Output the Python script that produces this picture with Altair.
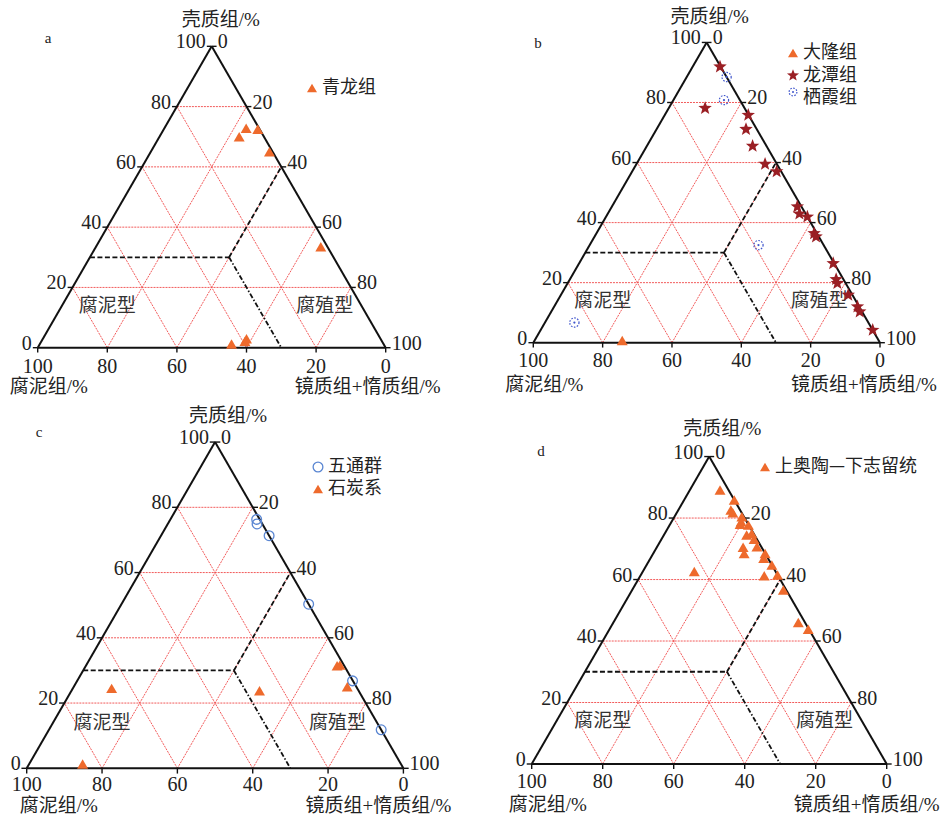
import altair as alt
import pandas as pd

# ---------------- values ----------------
TICK_VALUES = [0, 20, 40, 60, 80, 100]
GRID_VALUES = [20, 40, 60, 80]

AXIS_TOP = "壳质组/%"
AXIS_LEFT = "腐泥组/%"
AXIS_RIGHT = "镜质组+惰质组/%"

# classification boundaries, end points given as (壳质组 E, 镜质组+惰质组 V)
DASHED_E1 = [30, 30]
DASHED_V1 = [0, 40]
DASHED_E2 = [30, 60]
DASHED_V2 = [40, 40]
DASHDOT_E1 = [30]
DASHDOT_V1 = [40]
DASHDOT_E2 = [0]
DASHDOT_V2 = [70]

REGION_NAMES = ["腐泥型", "腐殖型"]
REGION_E = [14, 14]
REGION_V = [13, 75.5]

# a: 青龙组  (E = 壳质组, S = 腐泥组, V = 镜质组+惰质组, %)
A_QL_E = [72.8, 72.5, 70.0, 65.0, 33.5, 1.2, 2.1, 3.0]
A_QL_S = [3.7, 0.5, 7.1, 0.9, 1.9, 43.7, 39.4, 38.5]
A_QL_V = [23.5, 27.0, 22.9, 34.1, 64.6, 55.1, 58.5, 58.5]

# b: 大隆组, 龙潭组, 栖霞组
B_DL_E = [0.7]
B_DL_S = [74.0]
B_DL_V = [25.3]

B_LT_E = [91.9, 78.1, 75.8, 71.1, 65.5, 59.5, 57.0, 45.3, 42.9, 41.9,
          36.4, 35.3, 26.4, 21.1, 19.8, 15.9, 12.0, 10.3, 4.2]
B_LT_S = [0.2, 11.4, 0.1, 3.1, 4.0, 3.4, 1.3, 1.2, 1.8, 0.0,
          0.8, 0.8, 0.3, 2.1, 2.4, 1.2, 0.5, 0.7, 0.0]
B_LT_V = [7.9, 10.5, 24.1, 25.8, 30.5, 37.1, 41.7, 53.5, 55.3, 58.1,
          62.8, 63.9, 73.3, 76.8, 77.8, 82.9, 87.5, 89.0, 95.8]

B_QX_E = [88.5, 80.8, 32.5, 6.7]
B_QX_S = [0.0, 4.6, 18.8, 84.8]
B_QX_V = [11.5, 14.6, 48.7, 8.5]

# c: 五通群, 石炭系
C_WT_E = [76.3, 74.9, 71.3, 50.3, 26.8, 11.8]
C_WT_S = [0.8, 1.4, 0.0, 0.0, 0.1, 0.0]
C_WT_V = [22.9, 23.7, 28.7, 49.7, 73.1, 88.2]

C_ST_E = [31.7, 31.4, 25.0, 23.8, 24.5, 1.3]
C_ST_S = [1.0, 1.9, 2.4, 26.3, 65.2, 84.5]
C_ST_V = [67.3, 66.7, 72.6, 49.9, 10.3, 14.2]

# d: 上奥陶—下志留统
D_OS_E = [89.1, 85.9, 82.6, 81.7, 80.4, 78.8, 78.0, 77.7, 74.5, 75.0, 73.1, 70.7,
          70.5, 68.5, 68.5, 66.9, 64.7, 61.2, 61.5, 56.6, 62.6, 46.0, 43.8]
D_OS_S = [2.4, 0.0, 2.6, 2.5, 0.6, 1.6, 2.3, 0.1, 2.2, 0.5, 0.8, 1.2,
          5.2, 5.9, 0.0, 1.2, 0.0, 3.9, 0.0, 0.8, 22.9, 1.9, 0.2]
D_OS_V = [8.5, 14.1, 14.8, 15.8, 19.0, 19.6, 19.7, 22.2, 23.3, 24.5, 26.1, 28.1,
          24.3, 25.6, 31.5, 31.9, 35.3, 34.9, 38.5, 42.6, 14.5, 52.1, 56.0]

# ---------------- styles ----------------
NUM = "Liberation Serif"
SERIF = "'Liberation Serif', 'Noto Sans CJK SC', serif"
CJK = "'Noto Sans CJK SC', sans-serif"
INK = "#222222"
GRID_RED = "#F04848"
ORANGE = "#EE6A2C"
DARKRED = "#9A1F24"
BLUE = "#5A86D2"
BLUE_DOT = "#3F55CC"
STAR = ("M0,-1 L0.247,-0.34 L0.951,-0.309 L0.399,0.13 L0.588,0.809 L0,0.42 "
        "L-0.588,0.809 L-0.399,0.13 L-0.951,-0.309 L-0.247,-0.34 Z")

PANELS = {
    "a": dict(w=480, h=400, bx=37.7, by=347.7, s=3.48, letter=(48, 38),
              legend=(312, 88), row=22, top=(9, -26), left=(11, 39), right=(-18, 39), bdy=19),
    "b": dict(w=469, h=400, bx=53.3, by=342.7, s=3.467, letter=(58, 43),
              legend=(313, 53), row=22.5, top=(3, -25), left=(11, 42), right=(-16, 42), bdy=18),
    "c": dict(w=480, h=417, bx=26.7, by=368.3, s=3.767, letter=(39, 32),
              legend=(318, 67), row=22, top=(13, -26), left=(32, 38), right=(-25, 38), bdy=17),
    "d": dict(w=469, h=417, bx=51.7, by=364.0, s=3.55, letter=(61, 51),
              legend=(285, 67), row=22, top=(13, -28), left=(16, 41), right=(-20, 41), bdy=18),
}


def tern_x(e, v):
    return f"datum.{v} + datum.{e} / 2"


def tern_y(e):
    return f"datum.{e} * sqrt(3) / 2"


def comp(E, S, V):
    return pd.DataFrame({"E": E, "S": S, "V": V})


def segment_chart(e1, v1, e2, v2, X, Y, **mk):
    df = pd.DataFrame({"e1": e1, "v1": v1, "e2": e2, "v2": v2})
    return (
        alt.Chart(df)
        .transform_calculate(x1=tern_x("e1", "v1"), y1=tern_y("e1"),
                             x2=tern_x("e2", "v2"), y2=tern_y("e2"))
        .mark_rule(**mk)
        .encode(x=X("x1"), y=Y("y1"), x2=alt.X2("x2"), y2=alt.Y2("y2"))
    )


def point_layers(kind, df, X, Y):
    base = alt.Chart(df).transform_calculate(px=tern_x("E", "V"), py=tern_y("E"))
    enc = dict(x=X("px"), y=Y("py"))
    if kind == "tri":
        return [base.mark_point(shape="triangle-up", filled=True, color=ORANGE,
                                size=120, opacity=1).encode(**enc)]
    if kind == "star":
        return [base.mark_point(shape=STAR, filled=True, color=DARKRED,
                                size=200, opacity=1).encode(**enc)]
    if kind == "ring":
        return [base.mark_point(shape="circle", filled=False, color=BLUE,
                                strokeWidth=1.3, size=95, opacity=1).encode(**enc)]
    # dotted ring with a centre dot
    return [
        base.mark_point(shape="circle", filled=False, color=BLUE_DOT, strokeWidth=1.2,
                        strokeDash=[1.6, 1.4], size=85, opacity=1).encode(**enc),
        base.mark_point(shape="circle", filled=True, color=BLUE_DOT, size=5,
                        opacity=1).encode(**enc),
    ]


def legend_symbol(kind, lx, ly):
    one = alt.Chart(pd.DataFrame({"k": [kind]}))
    enc = dict(x=alt.value(lx), y=alt.value(ly))
    if kind == "tri":
        return [one.mark_point(shape="triangle-up", filled=True, color=ORANGE,
                               size=100, opacity=1).encode(**enc)]
    if kind == "star":
        return [one.mark_point(shape=STAR, filled=True, color=DARKRED,
                               size=160, opacity=1).encode(**enc)]
    if kind == "ring":
        return [one.mark_point(shape="circle", filled=False, color=BLUE,
                               strokeWidth=1.3, size=95, opacity=1).encode(**enc)]
    return [
        one.mark_point(shape="circle", filled=False, color=BLUE_DOT, strokeWidth=1.2,
                       strokeDash=[1.6, 1.4], size=60, opacity=1).encode(x=alt.value(lx), y=alt.value(ly - 6)),
        one.mark_point(shape="circle", filled=True, color=BLUE_DOT, size=4,
                       opacity=1).encode(x=alt.value(lx), y=alt.value(ly - 6)),
    ]


def make_panel(key, series):
    p = PANELS[key]
    xs = alt.Scale(domain=[-p["bx"] / p["s"], (p["w"] - p["bx"]) / p["s"]], nice=False, zero=False)
    ys = alt.Scale(domain=[-(p["h"] - p["by"]) / p["s"], p["by"] / p["s"]], nice=False, zero=False)

    def X(f):
        return alt.X(f, type="quantitative", scale=xs, axis=None)

    def Y(f):
        return alt.Y(f, type="quantitative", scale=ys, axis=None)

    layers = []

    # red triangular grid: constant 壳质组, constant 腐泥组, constant 镜质组+惰质组
    g_e1, g_v1, g_e2, g_v2 = [], [], [], []
    for k in GRID_VALUES:
        g_e1 += [k, 0, 0]
        g_v1 += [0, 100 - k, k]
        g_e2 += [k, 100 - k, 100 - k]
        g_v2 += [100 - k, 0, k]
    layers.append(segment_chart(g_e1, g_v1, g_e2, g_v2, X, Y, color=GRID_RED,
                                strokeWidth=0.9, strokeDash=[2, 1]))

    # classification boundaries
    layers.append(segment_chart(DASHED_E1, DASHED_V1, DASHED_E2, DASHED_V2, X, Y,
                                color="#111111", strokeWidth=1.8, strokeDash=[5, 2.5]))
    layers.append(segment_chart(DASHDOT_E1, DASHDOT_V1, DASHDOT_E2, DASHDOT_V2, X, Y,
                                color="#111111", strokeWidth=1.8, strokeDash=[5, 2, 1.5, 2]))

    # outer triangle
    layers.append(segment_chart([0, 0, 100], [0, 100, 0], [0, 100, 0], [100, 0, 0], X, Y,
                                color="#111111", strokeWidth=2))

    # tick stubs and tick labels on the three sides
    ticks = pd.DataFrame({"t": TICK_VALUES})
    left = alt.Chart(ticks).transform_calculate(E="datum.t", V="0", label="datum.t") \
        .transform_calculate(x=tern_x("E", "V"), y=tern_y("E"), xe="datum.x - 1.4")
    right = alt.Chart(ticks).transform_calculate(E="100 - datum.t", V="datum.t", label="datum.t") \
        .transform_calculate(x=tern_x("E", "V"), y=tern_y("E"), xe="datum.x + 1.4")
    bottom = alt.Chart(ticks).transform_calculate(E="0", V="100 - datum.t", label="datum.t") \
        .transform_calculate(x=tern_x("E", "V"), y=tern_y("E"), ye="datum.y - 1.4")
    layers += [
        left.mark_rule(color="#111111", strokeWidth=1.4).encode(x=X("x"), y=Y("y"), x2=alt.X2("xe")),
        right.mark_rule(color="#111111", strokeWidth=1.4).encode(x=X("x"), y=Y("y"), x2=alt.X2("xe")),
        bottom.mark_rule(color="#111111", strokeWidth=1.4).encode(x=X("x"), y=Y("y"), y2=alt.Y2("ye")),
        left.mark_text(font=NUM, fontSize=20, color=INK, align="right", baseline="middle", dx=-6, dy=-4)
        .encode(x=X("x"), y=Y("y"), text="label:N"),
        right.mark_text(font=NUM, fontSize=20, color=INK, align="left", baseline="middle", dx=6, dy=-4)
        .encode(x=X("x"), y=Y("y"), text="label:N"),
        bottom.mark_text(font=NUM, fontSize=20, color=INK, align="center", baseline="middle", dy=p["bdy"])
        .encode(x=X("x"), y=Y("y"), text="label:N"),
    ]

    # axis titles at the three vertices
    for title, e, v, off in [(AXIS_TOP, 100, 0, p["top"]), (AXIS_LEFT, 0, 0, p["left"]),
                             (AXIS_RIGHT, 0, 100, p["right"])]:
        df = pd.DataFrame({"t": [title], "E": [e], "V": [v]})
        layers.append(
            alt.Chart(df).transform_calculate(x=tern_x("E", "V"), y=tern_y("E"))
            .mark_text(font=SERIF, fontSize=19, color=INK, align="center", baseline="middle",
                       dx=off[0], dy=off[1])
            .encode(x=X("x"), y=Y("y"), text="t:N")
        )

    # 腐泥型 / 腐殖型
    reg = pd.DataFrame({"t": REGION_NAMES, "E": REGION_E, "V": REGION_V})
    layers.append(
        alt.Chart(reg).transform_calculate(x=tern_x("E", "V"), y=tern_y("E"))
        .mark_text(font=CJK, fontSize=19, color="#333333", align="center", baseline="middle")
        .encode(x=X("x"), y=Y("y"), text="t:N")
    )

    # samples
    for kind, name, df in series:
        layers += point_layers(kind, df, X, Y)

    # legend
    lx, ly = p["legend"]
    for i, (kind, name, df) in enumerate(series):
        yy = ly + i * p["row"]
        layers += legend_symbol(kind, lx, yy)
        layers.append(
            alt.Chart(pd.DataFrame({"t": [name]}))
            .mark_text(font=CJK, fontSize=18, color=INK, align="left", baseline="middle")
            .encode(x=alt.value(lx + 10), y=alt.value(yy), text="t:N")
        )

    # panel letter
    layers.append(
        alt.Chart(pd.DataFrame({"t": [key]}))
        .mark_text(font=NUM, fontSize=15, color=INK, align="center", baseline="middle")
        .encode(x=alt.value(p["letter"][0]), y=alt.value(p["letter"][1]), text="t:N")
    )

    return alt.layer(*layers).properties(width=p["w"], height=p["h"])


panel_a = make_panel("a", [("tri", "青龙组", comp(A_QL_E, A_QL_S, A_QL_V))])
panel_b = make_panel("b", [
    ("tri", "大隆组", comp(B_DL_E, B_DL_S, B_DL_V)),
    ("star", "龙潭组", comp(B_LT_E, B_LT_S, B_LT_V)),
    ("dotring", "栖霞组", comp(B_QX_E, B_QX_S, B_QX_V)),
])
panel_c = make_panel("c", [
    ("ring", "五通群", comp(C_WT_E, C_WT_S, C_WT_V)),
    ("tri", "石炭系", comp(C_ST_E, C_ST_S, C_ST_V)),
])
panel_d = make_panel("d", [("tri", "上奥陶—下志留统", comp(D_OS_E, D_OS_S, D_OS_V))])

chart = (
    alt.vconcat(
        alt.hconcat(panel_a, panel_b, spacing=0),
        alt.hconcat(panel_c, panel_d, spacing=0),
        spacing=0,
    )
    .properties(padding=0, background="white")
    .configure_view(strokeWidth=0)
)

chart.save("out.html", embed_options={"renderer": "svg", "actions": False})
